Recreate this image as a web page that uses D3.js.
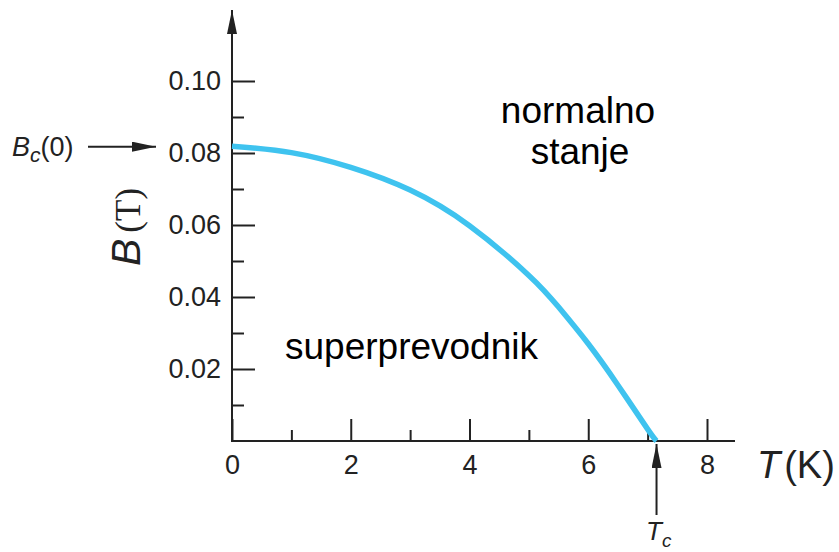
<!DOCTYPE html>
<html>
<head>
<meta charset="utf-8">
<script src="https://cdn.jsdelivr.net/npm/d3@7"></script>
<style>
  body { margin: 0; background: #fff; }
  svg { display: block; font-family: "Liberation Sans", Arial, sans-serif; }
</style>
</head>
<body>
<div id="chart"></div>
<script>
// critical field curve
const temps = [0, 1, 2, 3, 4, 5, 5.5, 6, 6.5, 7, 7.15];
const fields = [0.0819, 0.0801, 0.0760, 0.0697, 0.0598, 0.0460, 0.0372, 0.0270, 0.0155, 0.0033, 0];

const xTicks = [0, 2, 4, 6, 8];
const xMinor = [1, 3, 5, 7];
const yTicks = [0.02, 0.04, 0.06, 0.08, 0.10];
const yMinor = [0.01, 0.03, 0.05, 0.07, 0.09];

const tc = 7.15;
const bc0 = 0.0819;

const W = 839, H = 552;
const x = d3.scaleLinear().domain([0, 8]).range([232, 707]);
const y = d3.scaleLinear().domain([0, 0.10]).range([441, 81]);

const svg = d3.select('#chart').append('svg')
  .attr('width', W)
  .attr('height', H);

const ink = '#222';

// long narrow arrow head
svg.append('defs').append('marker')
  .attr('id', 'small')
  .attr('viewBox', '0 0 24 10')
  .attr('refX', 24).attr('refY', 5)
  .attr('markerWidth', 24).attr('markerHeight', 10)
  .attr('markerUnits', 'userSpaceOnUse')
  .attr('orient', 'auto')
  .append('path')
  .attr('d', 'M0,0 L24,5 L0,10 Z')
  .attr('fill', ink);

// axes lines
svg.append('line')
  .attr('x1', x(0)).attr('x2', 735)
  .attr('y1', y(0)).attr('y2', y(0))
  .attr('stroke', ink).attr('stroke-width', 2);

svg.append('line')
  .attr('x1', x(0)).attr('x2', x(0))
  .attr('y1', y(0) + 1).attr('y2', 10)
  .attr('stroke', ink).attr('stroke-width', 2)
  .attr('marker-end', 'url(#small)');

// x axis ticks (pointing up)
const gx = svg.append('g')
  .attr('transform', `translate(0,${y(0)})`)
  .call(d3.axisBottom(x).tickValues(xTicks).tickFormat(d3.format('d'))
    .tickSizeInner(-22).tickSizeOuter(0).tickPadding(14));
gx.select('.domain').remove();

const gxm = svg.append('g')
  .attr('transform', `translate(0,${y(0)})`)
  .call(d3.axisBottom(x).tickValues(xMinor).tickFormat('')
    .tickSizeInner(-11).tickSizeOuter(0));
gxm.select('.domain').remove();

// y axis ticks (pointing right)
const gy = svg.append('g')
  .attr('transform', `translate(${x(0)},0)`)
  .call(d3.axisLeft(y).tickValues(yTicks).tickFormat(d3.format('.2f'))
    .tickSizeInner(-23).tickSizeOuter(0).tickPadding(11));
gy.select('.domain').remove();

const gym = svg.append('g')
  .attr('transform', `translate(${x(0)},0)`)
  .call(d3.axisLeft(y).tickValues(yMinor).tickFormat('')
    .tickSizeInner(-12).tickSizeOuter(0));
gym.select('.domain').remove();

svg.selectAll('.tick line').attr('stroke', ink).attr('stroke-width', 2);
svg.selectAll('.tick text')
  .attr('fill', ink)
  .style('font-size', '27px')
  .style('font-family', '"Liberation Sans", Arial, sans-serif');

// the curve
const pts = temps.map((t, i) => [t, fields[i]]);
const line = d3.line()
  .x(d => x(d[0]))
  .y(d => y(d[1]))
  .curve(d3.curveNatural);

svg.append('path')
  .datum(pts)
  .attr('d', line)
  .attr('fill', 'none')
  .attr('stroke', '#3fc3ef')
  .attr('stroke-width', 5.5);

// region labels
svg.append('text')
  .attr('x', 578).attr('y', 123)
  .attr('text-anchor', 'middle')
  .style('font-size', '37px')
  .text('normalno');
svg.append('text')
  .attr('x', 580).attr('y', 164)
  .attr('text-anchor', 'middle')
  .style('font-size', '37px')
  .text('stanje');
svg.append('text')
  .attr('x', 285).attr('y', 359)
  .style('font-size', '37px')
  .text('superprevodnik');

// y axis title
const yt = svg.append('text')
  .attr('transform', 'translate(140,266) rotate(-90)')
  .attr('fill', ink);
yt.append('tspan')
  .style('font-size', '41px')
  .style('font-style', 'italic')
  .text('B');
yt.append('tspan')
  .style('font-size', '35px')
  .style('font-family', '"Liberation Serif", "Times New Roman", serif')
  .attr('dx', 6)
  .text('(T)');

// x axis title
const xt = svg.append('text')
  .attr('x', 757).attr('y', 478)
  .attr('fill', ink)
  .style('font-size', '38px');
xt.append('tspan').style('font-style', 'italic').text('T');
xt.append('tspan').attr('dx', 4).text('(K)');

// Bc(0) annotation
const bl = svg.append('text')
  .attr('x', 12).attr('y', 156)
  .attr('fill', ink)
  .style('font-size', '27px');
bl.append('tspan').style('font-style', 'italic').text('B');
bl.append('tspan').style('font-style', 'italic').style('font-size', '21px').attr('dy', 6).text('c');
bl.append('tspan').attr('dy', -6).text('(0)');

svg.append('line')
  .attr('x1', 88).attr('x2', 156)
  .attr('y1', y(bc0) + 0.5).attr('y2', y(bc0) + 0.5)
  .attr('stroke', ink).attr('stroke-width', 2)
  .attr('marker-end', 'url(#small)');

// Tc annotation
svg.append('line')
  .attr('x1', x(tc)).attr('x2', x(tc))
  .attr('y1', 515).attr('y2', 444)
  .attr('stroke', ink).attr('stroke-width', 2)
  .attr('marker-end', 'url(#small)');

const tl = svg.append('text')
  .attr('x', 646).attr('y', 540)
  .attr('fill', ink)
  .style('font-size', '26px');
tl.append('tspan').style('font-style', 'italic').text('T');
tl.append('tspan').style('font-style', 'italic').style('font-size', '19px').attr('dy', 7).text('c');
</script>
</body>
</html>
